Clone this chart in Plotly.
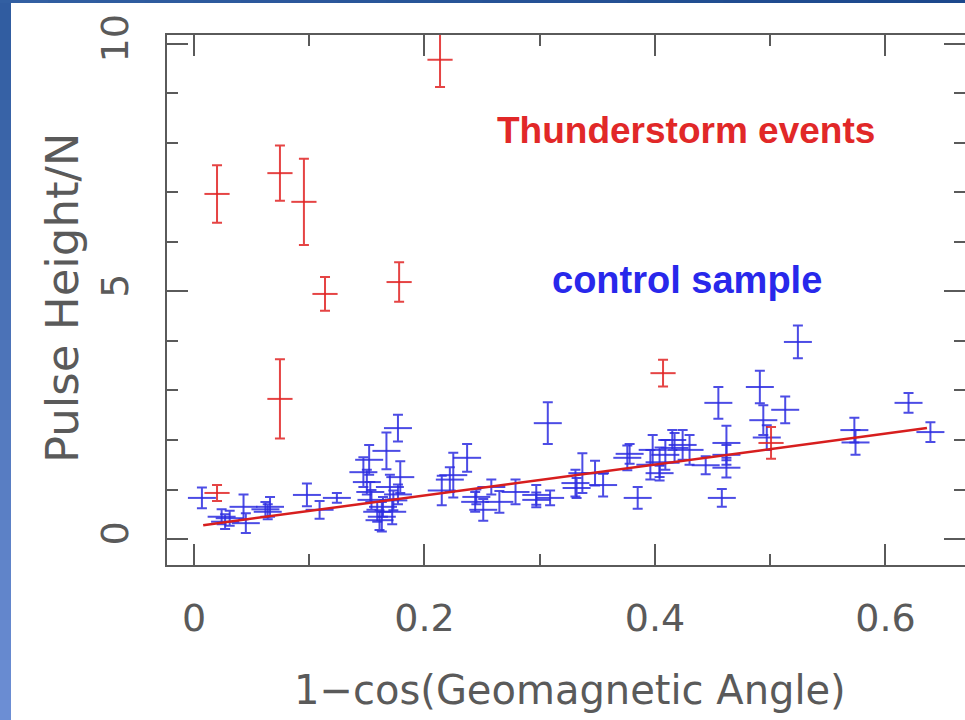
import plotly.graph_objects as go

# ---------------- data ----------------
blue_x = [0.0069, 0.024, 0.027, 0.031, 0.043, 0.045, 0.062, 0.066, 0.064, 0.098,
          0.109, 0.124, 0.147, 0.152, 0.150, 0.153, 0.154, 0.159, 0.161, 0.163,
          0.164, 0.167, 0.170, 0.172, 0.173, 0.177, 0.177, 0.179, 0.215, 0.222,
          0.225, 0.237, 0.244, 0.245, 0.251, 0.258, 0.265, 0.279, 0.297, 0.297,
          0.307, 0.309, 0.331, 0.332, 0.337, 0.348, 0.355, 0.376, 0.378, 0.385,
          0.396, 0.398, 0.404, 0.404, 0.409, 0.415, 0.417, 0.424, 0.430, 0.444,
          0.455, 0.458, 0.462, 0.462, 0.462, 0.491, 0.494, 0.497, 0.513, 0.524,
          0.573, 0.574, 0.620, 0.639]
blue_y = [0.83, 0.45, 0.35, 0.42, 0.65, 0.32, 0.60, 0.65, 0.55, 0.89,
          0.59, 0.83, 1.35, 1.60, 1.15, 0.95, 0.79, 0.55, 0.38, 0.45,
          0.65, 1.78, 1.05, 0.55, 0.78, 2.24, 0.90, 1.25, 0.98, 1.20,
          1.29, 1.64, 0.75, 0.85, 0.59, 1.05, 0.75, 0.95, 0.89, 0.79,
          2.34, 0.83, 1.13, 1.03, 1.33, 1.33, 1.09, 1.64, 1.72, 0.83,
          1.50, 1.80, 1.55, 1.33, 1.70, 2.00, 1.84, 1.90, 1.80, 1.49,
          2.75, 0.83, 1.94, 1.70, 1.44, 3.07, 2.40, 2.05, 2.61, 3.98,
          2.20, 1.95, 2.75, 2.16]
blue_err = [0.21, 0.15, 0.15, 0.15, 0.25, 0.20, 0.15, 0.20, 0.15, 0.23,
            0.18, 0.10, 0.30, 0.30, 0.25, 0.20, 0.20, 0.20, 0.20, 0.30,
            0.20, 0.37, 0.25, 0.25, 0.20, 0.27, 0.20, 0.32, 0.30, 0.25,
            0.45, 0.28, 0.20, 0.15, 0.22, 0.15, 0.22, 0.25, 0.20, 0.15,
            0.42, 0.15, 0.27, 0.20, 0.40, 0.25, 0.23, 0.25, 0.20, 0.22,
            0.30, 0.30, 0.30, 0.15, 0.30, 0.20, 0.30, 0.30, 0.30, 0.18,
            0.32, 0.18, 0.35, 0.20, 0.20, 0.33, 0.30, 0.25, 0.27, 0.33,
            0.25, 0.25, 0.20, 0.20]

red_x = [0.020, 0.020, 0.0746, 0.0954, 0.1137, 0.178, 0.2135, 0.0746, 0.407, 0.5007]
red_y = [0.93, 6.97, 7.39, 6.81, 4.95, 5.19, 9.68, 2.83, 3.35, 1.94]
red_err = [0.16, 0.58, 0.56, 0.87, 0.34, 0.40, 0.55, 0.80, 0.27, 0.32]

fit_x = [0.008, 0.636]
fit_y = [0.28, 2.24]

x_ticks = [0, 0.2, 0.4, 0.6]
x_ticklabels = ["0", "0.2", "0.4", "0.6"]
x_minor = [0.1, 0.3, 0.5]
y_ticks = [0, 5, 10]
y_ticklabels = ["0", "5", "10"]
y_minor = [1, 2, 3, 4, 6, 7, 8, 9]

x_title = "1\u2212cos(Geomagnetic Angle)"
y_title = "Pulse Height/N"
label_storm = "Thunderstorm events"
label_control = "control sample"

# ---------------- style ----------------
W, H = 965, 720
PL, PR, PT, PB = 167, 965, 35, 565
BLUE = "rgba(45,45,225,0.85)"
RED = "rgba(225,35,35,0.85)"
AX = "#5a5a5a"
FONT = "DejaVu Sans"


def pxx(p):
    return (p - PL) / (PR - PL)


def pxy(p):
    return (PB - p) / (PB - PT)


fig = go.Figure()
fig.add_trace(go.Scatter(
    x=blue_x, y=blue_y, mode="markers",
    marker=dict(symbol="line-ew", size=20, color=BLUE, line=dict(width=2, color=BLUE)),
    error_y=dict(type="data", array=blue_err, color=BLUE, thickness=2, width=5),
    showlegend=False, hoverinfo="skip"))
fig.add_trace(go.Scatter(
    x=red_x, y=red_y, mode="markers",
    marker=dict(symbol="line-ew", size=18, color=RED, line=dict(width=2, color=RED)),
    error_y=dict(type="data", array=red_err, color=RED, thickness=2, width=5),
    showlegend=False, hoverinfo="skip"))
fig.add_trace(go.Scatter(
    x=fit_x, y=fit_y, mode="lines", line=dict(color="rgb(215,30,30)", width=2.5),
    showlegend=False, hoverinfo="skip"))

shapes = []
# blue slide border (left strip gradient and top strip)
n = 36
for i in range(n):
    t = i / (n - 1)
    r = int(48 + (108 - 48) * t)
    g = int(92 + (142 - 92) * t)
    b = int(160 + (212 - 160) * t)
    y0 = i * H / n
    y1 = (i + 1) * H / n + 1
    shapes.append(dict(type="rect", xref="paper", yref="paper",
                       x0=pxx(0), x1=pxx(11), y0=pxy(y1), y1=pxy(y0),
                       fillcolor=f"rgb({r},{g},{b})", line=dict(width=0), layer="above"))
m = 20
for i in range(m):
    t = i / (m - 1)
    r = int(50 + (28 - 50) * t)
    g = int(95 + (72 - 95) * t)
    b = int(162 + (140 - 162) * t)
    x0 = i * W / m
    x1 = (i + 1) * W / m + 1
    shapes.append(dict(type="rect", xref="paper", yref="paper",
                       x0=pxx(x0), x1=pxx(x1), y0=pxy(3), y1=pxy(0),
                       fillcolor=f"rgb({r},{g},{b})", line=dict(width=0), layer="above"))

annotations = [
    dict(text=label_storm, x=pxx(686), y=pxy(130), xref="paper", yref="paper",
         showarrow=False, xanchor="center", yanchor="middle",
         font=dict(family="Liberation Sans", size=37, color="rgb(225,40,40)", weight="bold")),
    dict(text=label_control, x=pxx(687), y=pxy(280), xref="paper", yref="paper",
         showarrow=False, xanchor="center", yanchor="middle",
         font=dict(family="Liberation Sans", size=38, color="rgb(40,40,235)", weight="bold")),
    dict(text=x_title, x=pxx(570), y=pxy(690), xref="paper", yref="paper",
         showarrow=False, xanchor="center", yanchor="middle",
         font=dict(family=FONT, size=40, color=AX)),
    dict(text=y_title, x=pxx(62), y=pxy(298), xref="paper", yref="paper",
         showarrow=False, xanchor="center", yanchor="middle", textangle=-90,
         font=dict(family=FONT, size=45, color=AX)),
]

axis_common = dict(
    showgrid=False, zeroline=False, showline=True, linecolor=AX, linewidth=2,
    mirror="ticks", ticks="inside", ticklen=21, tickwidth=2, tickcolor=AX,
    tickfont=dict(family=FONT, size=38, color=AX), automargin=False,
)

fig.update_layout(
    width=W, height=H, autosize=False,
    margin=dict(l=PL, r=W - PR, t=PT, b=H - PB, pad=0, autoexpand=False),
    paper_bgcolor="white", plot_bgcolor="white",
    xaxis=dict(range=[-0.0234, 0.669], tickmode="array", tickvals=x_ticks,
               ticktext=x_ticklabels, ticklabelstandoff=18,
               minor=dict(tickmode="array", tickvals=x_minor, ticks="inside",
                          ticklen=11, tickwidth=2, tickcolor=AX, showgrid=False),
               **axis_common),
    yaxis=dict(range=[-0.525, 10.18], tickmode="array", tickvals=y_ticks,
               ticktext=y_ticklabels, tickangle=-90, ticklabelstandoff=22,
               minor=dict(tickmode="array", tickvals=y_minor, ticks="inside",
                          ticklen=11, tickwidth=2, tickcolor=AX, showgrid=False),
               **axis_common),
    shapes=shapes,
    annotations=annotations,
)

fig.write_html(
    "out.html",
    config={"displayModeBar": False, "responsive": False},
    post_script="document.body.style.margin='0';document.body.style.overflow='hidden';",
)
